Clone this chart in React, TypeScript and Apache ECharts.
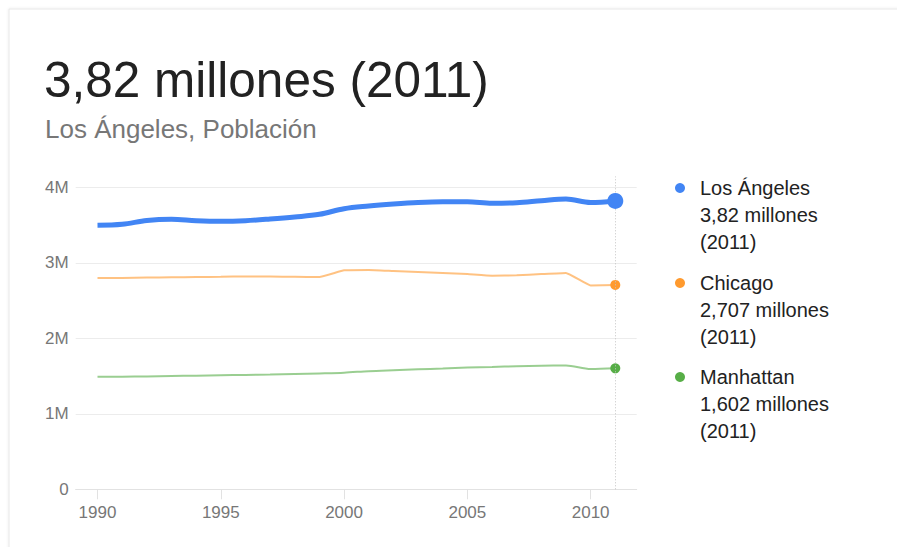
import React, { useEffect, useRef } from "react";
import * as echarts from "echarts";

const years = [1990, 1991, 1992, 1993, 1994, 1995, 1996, 1997, 1998, 1999, 2000, 2001, 2002, 2003, 2004, 2005, 2006, 2007, 2008, 2009, 2010, 2011];
const losAngeles = [3497000, 3510000, 3560000, 3576000, 3558000, 3550000, 3558000, 3580000, 3607000, 3642000, 3716000, 3752000, 3779000, 3800000, 3810000, 3810000, 3790000, 3796000, 3822000, 3845000, 3800000, 3820000];
const chicago = [2799000, 2800000, 2804000, 2808000, 2811000, 2815000, 2820000, 2818000, 2815000, 2811000, 2900000, 2905000, 2891000, 2878000, 2865000, 2850000, 2828000, 2834000, 2850000, 2865000, 2700000, 2707000];
const manhattan = [1491000, 1492000, 1495000, 1500000, 1505000, 1510000, 1515000, 1520000, 1527000, 1535000, 1545000, 1565000, 1578000, 1590000, 1600000, 1612000, 1620000, 1630000, 1638000, 1640000, 1593000, 1602000];
const seriesNames = ["Los Ángeles", "Chicago", "Manhattan"];
const xTickLabels = [1990, 1995, 2000, 2005, 2010];
const yTickValues = [0, 1000000, 2000000, 3000000, 4000000];
const subtitleText = "Los Ángeles, Población";

const FONT = "'Liberation Sans', Arial, Helvetica, sans-serif";
const COLORS = ["#4285f4", "#ff9a2e", "#57ae47"];

function fmtMillions(v: number): string {
  return String(Math.round(v / 1000) / 1000).replace(".", ",") + " millones";
}

export default function App() {
  const ref = useRef<HTMLDivElement>(null);
  useEffect(() => {
    document.body.style.margin = "0";
    document.body.style.background = "#fff";
    const chart = echarts.init(ref.current!, null, { renderer: "svg" });
    const allData = [losAngeles, chicago, manhattan];
    const last = years.length - 1;
    const lastYear = years[last];

    const mkData = (arr: number[], endSize: number) =>
      arr.map((v, i) =>
        i === last
          ? { value: [years[i], v], symbol: "circle", symbolSize: endSize }
          : { value: [years[i], v], symbol: "none" }
      );

    const legendGraphics: any[] = [];
    const legendTop = [188, 283, 377];
    seriesNames.forEach((name, k) => {
      legendGraphics.push({
        type: "circle",
        shape: { cx: 680, cy: legendTop[k], r: 5 },
        style: { fill: COLORS[k] },
      });
      legendGraphics.push({
        type: "text",
        x: 700,
        y: legendTop[k] - 13.5,
        style: {
          text: `${name}\n${fmtMillions(allData[k][last])}\n(${lastYear})`,
          font: `20px ${FONT}`,
          lineHeight: 27,
          fill: "#222",
          verticalAlign: "top",
          align: "left",
        },
      });
    });

    chart.setOption({
      animation: false,
      backgroundColor: "#fff",
      textStyle: { fontFamily: FONT },
      graphic: [
        {
          type: "rect",
          z: -10,
          shape: { x: 9, y: 9, width: 1000, height: 700 },
          style: { fill: "#fff", stroke: "#e8e8e8", lineWidth: 1, shadowBlur: 3, shadowColor: "rgba(0,0,0,0.08)" },
        },
        {
          type: "text",
          x: 44,
          y: 79,
          style: {
            text: `${fmtMillions(losAngeles[last])} (${lastYear})`,
            font: `49.5px ${FONT}`,
            fill: "#222",
            verticalAlign: "middle",
          },
        },
        {
          type: "text",
          x: 45,
          y: 129,
          style: {
            text: subtitleText,
            font: `26px ${FONT}`,
            fill: "#777",
            verticalAlign: "middle",
          },
        },
        ...legendGraphics,
      ],
      grid: { left: 75.7, right: 260.3, top: 176.5, bottom: 57.7, containLabel: false },
      xAxis: {
        type: "value",
        min: 1989.116,
        max: 2011.868,
        axisLine: { show: true, lineStyle: { color: "#e2e2e2", width: 1 } },
        axisTick: { show: true, length: 10, customValues: xTickLabels, lineStyle: { color: "#e2e2e2" } },
        axisLabel: {
          customValues: xTickLabels,
          formatter: (v: number) => String(v),
          color: "#777",
          fontSize: 17,
          margin: 15,
        },
        splitLine: { show: false },
      },
      yAxis: {
        type: "value",
        min: 0,
        max: 4143000,
        interval: 1000000,
        axisLine: { show: false },
        axisTick: { show: false },
        axisLabel: {
          customValues: yTickValues,
          formatter: (v: number) => (v === 0 ? "0" : v % 1000000 === 0 ? v / 1000000 + "M" : ""),
          color: "#777",
          fontSize: 17,
          margin: 7,
        },
        splitLine: { show: true, showMaxLine: false, lineStyle: { color: "#ececec", width: 1 } },
      },
      series: [
        {
          name: seriesNames[0],
          type: "line",
          data: mkData(losAngeles, 16),
          smooth: 0.35,
          showSymbol: true,
          color: COLORS[0],
          lineStyle: { width: 5, color: COLORS[0] },
          itemStyle: { color: COLORS[0] },
          z: 5,
          markLine: {
            silent: true,
            symbol: "none",
            label: { show: false },
            lineStyle: { color: "#c4c4c4", type: [1, 2], width: 1 },
            data: [{ xAxis: lastYear }],
          },
        },
        {
          name: seriesNames[1],
          type: "line",
          data: mkData(chicago, 10),
          smooth: 0.1,
          showSymbol: true,
          color: COLORS[1],
          lineStyle: { width: 2, color: COLORS[1], opacity: 0.6 },
          itemStyle: { color: COLORS[1] },
          z: 4,
        },
        {
          name: seriesNames[2],
          type: "line",
          data: mkData(manhattan, 10),
          smooth: 0.3,
          showSymbol: true,
          color: COLORS[2],
          lineStyle: { width: 2, color: COLORS[2], opacity: 0.6 },
          itemStyle: { color: COLORS[2] },
          z: 4,
        },
      ],
    });
    return () => chart.dispose();
  }, []);
  return <div ref={ref} style={{ position: "fixed", left: 0, top: 0, width: 897, height: 547 }} />;
}
